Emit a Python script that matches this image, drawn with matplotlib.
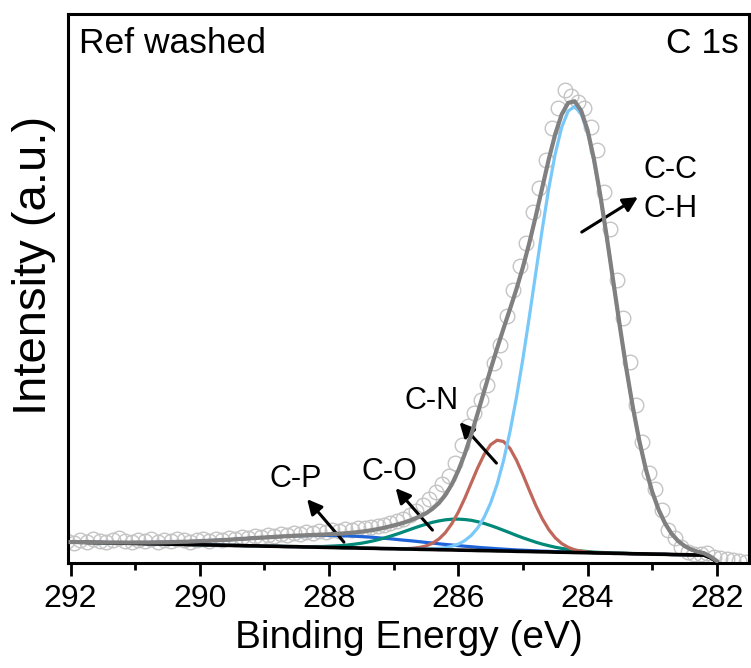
import numpy as np
import matplotlib
matplotlib.use('Agg')
import matplotlib.pyplot as plt

plt.rcParams['font.family'] = ['Liberation Sans', 'DejaVu Sans']

# binding energy grids (eV): measured points and fitted curves
E_raw = np.linspace(292.05, 281.55, 106)
E_fit = np.linspace(292.0, 282.0, 101)

# measured spectrum (open circles), 292.05 -> 281.55 eV
raw = [22, 20, 23, 21, 24, 22, 21, 23, 25, 22,
       21, 23, 22, 24, 21, 23, 22, 24, 23, 21,
       23, 24, 22, 24, 23, 25, 24, 26, 25, 27,
       26, 28, 27, 29, 28, 30, 29, 31, 30, 32,
       31, 33, 32, 34, 33, 35, 35, 36, 37, 38,
       40, 42, 44, 48, 52, 58, 64, 71, 79, 87,
       100, 118, 137, 150, 163, 178, 200, 218, 247, 273,
       297, 320, 351, 375, 403, 435, 455, 473, 467, 461,
       455, 436, 413, 371, 334, 283, 245, 201, 158, 121,
       90, 74, 53, 33, 25, 16, 11, 9, 9, 10,
       6, 5, 4, 3, 2, 1]

# background, 292.0 -> 282.0 eV
baseline = [21.0, 20.9, 20.8, 20.6, 20.5, 20.4, 20.2, 20.1, 20.0, 19.8,
            19.7, 19.6, 19.4, 19.3, 19.2, 19.0, 18.9, 18.8, 18.6, 18.5,
            18.4, 18.2, 18.1, 18.0, 17.8, 17.7, 17.6, 17.4, 17.3, 17.2,
            17.0, 16.9, 16.8, 16.6, 16.5, 16.4, 16.2, 16.1, 16.0, 15.8,
            15.7, 15.6, 15.4, 15.3, 15.2, 15.0, 14.9, 14.8, 14.6, 14.5,
            14.4, 14.2, 14.1, 14.0, 13.8, 13.7, 13.6, 13.4, 13.3, 13.2,
            13.0, 12.9, 12.8, 12.6, 12.5, 12.4, 12.2, 12.1, 12.0, 11.8,
            11.7, 11.6, 11.4, 11.3, 11.2, 11.0, 10.9, 10.8, 10.6, 10.5,
            10.4, 10.2, 10.1, 10.0, 9.8, 9.7, 9.6, 9.4, 9.3, 9.2,
            9.0, 8.9, 8.8, 8.6, 8.5, 8.4, 8.2, 8.1, 8.0, 5.5,
            1.5]

# fitted components above background, 292.0 -> 282.0 eV
cc = [0] * 50 + [
    0, 0, 0, 0.1, 0.2, 0.4, 0.7, 1.3, 2.2, 3.7,
    6.0, 9.6, 14.9, 22.6, 33.3, 47.7, 66.5, 90.4, 119.5, 153.9,
    192.8, 235.2, 279.4, 323.0, 363.5, 398.3, 424.9, 441.2, 446.0, 438.8,
    420.4, 392.0, 355.8, 314.4, 270.5, 226.6, 184.7, 146.6, 113.2, 85.2,
    62.4, 44.5, 30.9, 20.8, 13.7, 8.8, 5.5, 3.3, 2.0, 1.1,
    0.6]

cn = [0] * 50 + [
    0.1, 0.2, 0.4, 0.9, 1.9, 3.5, 6.3, 10.7, 17.2, 26.3,
    38.0, 51.9, 67.3, 82.7, 96.2, 106.0, 110.7, 109.5, 102.7, 91.1,
    76.7, 61.1, 46.1, 33.0, 22.3, 14.3, 8.7, 5.0, 2.7, 1.4,
    0.7, 0.3, 0.1, 0, 0, 0, 0, 0, 0, 0,
    0, 0, 0, 0, 0, 0, 0, 0, 0, 0,
    0]

co = [0] * 30 + [
    0, 0, 0, 0.1, 0.1, 0.2, 0.3, 0.4, 0.6, 0.8,
    1.2, 1.6, 2.2, 2.9, 3.8, 4.9, 6.2, 7.7, 9.5, 11.5,
    13.6, 15.9, 18.3, 20.7, 23.1, 25.2, 27.2, 28.8, 30.0, 30.7,
    31.0, 30.7, 30.0, 28.8, 27.2, 25.2, 23.1, 20.7, 18.3, 15.9,
    13.6, 11.5, 9.5, 7.7, 6.2, 4.9, 3.8, 2.9, 2.2, 1.6,
    1.2, 0.8, 0.6, 0.4, 0.3, 0.2, 0.1, 0.1, 0, 0,
    0, 0, 0, 0, 0, 0, 0, 0, 0, 0,
    0]

cp = [0.1, 0.2, 0.2, 0.2, 0.3, 0.3, 0.4, 0.5, 0.6, 0.7,
      0.9, 1.0, 1.2, 1.4, 1.6, 1.9, 2.2, 2.5, 2.8, 3.2,
      3.6, 4.0, 4.5, 4.9, 5.4, 5.9, 6.5, 7.0, 7.6, 8.1,
      8.6, 9.1, 9.6, 10.1, 10.5, 10.9, 11.2, 11.5, 11.7, 11.9,
      12.0, 12.0, 12.0, 11.9, 11.7, 11.5, 11.2, 10.9, 10.5, 10.1,
      9.6, 9.1, 8.6, 8.1, 7.6, 7.0, 6.5, 5.9, 5.4, 4.9,
      4.5, 4.0, 3.6, 3.2, 2.8, 2.5, 2.2, 1.9, 1.6, 1.4,
      1.2, 1.0, 0.9, 0.7, 0.6, 0.5, 0.4, 0.3, 0.3, 0.2,
      0.2, 0.2, 0.1, 0.1, 0.1, 0.1, 0, 0, 0, 0,
      0, 0, 0, 0, 0, 0, 0, 0, 0, 0,
      0]

base = np.array(baseline)
components = [(cp, '#1E63D8'), (co, '#008878'), (cn, '#C0675C'), (cc, '#79C8FA')]
envelope = base + np.array(cc) + np.array(cn) + np.array(co) + np.array(cp)

fig = plt.figure(figsize=(7.51, 6.68), dpi=100)
ax = fig.add_axes([0.0905, 0.157, 0.907, 0.822])

ax.plot(E_raw, raw, 'o', ms=10.5, mfc='none', mec='#C4C4C4', mew=1.0, zorder=1)
for vals, col in components:
    ax.plot(E_fit, base + np.array(vals), '-', color=col, lw=2.3, zorder=2)
ax.plot(E_fit, base, '-', color='black', lw=2.6, zorder=3)
ax.plot(E_fit, envelope, '-', color='#808080', lw=3.0, zorder=4)

ax.set_xlim(292.04, 281.5)
ax.set_ylim(0, 549)
ax.set_xticks([292, 290, 288, 286, 284, 282])
ax.set_xticks([291, 289, 287, 285, 283], minor=True)
ax.set_yticks([])
ax.tick_params(axis='x', which='major', direction='out', length=9, width=2,
               labelsize=23, pad=6)
ax.tick_params(axis='x', which='minor', direction='out', length=5, width=2)
for sp in ax.spines.values():
    sp.set_linewidth(2.2)

ax.set_xlabel('Binding Energy (eV)', fontsize=28, labelpad=4)
ax.set_ylabel('Intensity (a.u.)', fontsize=34)
ax.yaxis.set_label_coords(-0.017, 0.543)

ax.text(0.016, 0.947, 'Ref washed', transform=ax.transAxes, fontsize=25.5,
        ha='left', va='center')
ax.text(0.985, 0.947, 'C 1s', transform=ax.transAxes, fontsize=25.5,
        ha='right', va='center')

labels = [('C-C', 282.71, 393), ('C-H', 282.71, 354), ('C-N', 286.41, 162),
          ('C-O', 287.07, 91), ('C-P', 288.51, 84)]
for txt, x, y in labels:
    ax.text(x, y, txt, fontsize=22, ha='center', va='center')

arrows = [((284.09, 331), (283.22, 366)), ((285.41, 100), (285.98, 141)),
          ((286.40, 33), (286.97, 75)), ((287.77, 21), (288.34, 64))]
for tail, head in arrows:
    ax.annotate('', xy=head, xytext=tail,
                arrowprops=dict(arrowstyle='-|>', color='black', lw=2.2,
                                mutation_scale=22, shrinkA=0, shrinkB=0))

fig.savefig('out.png', dpi=100)
